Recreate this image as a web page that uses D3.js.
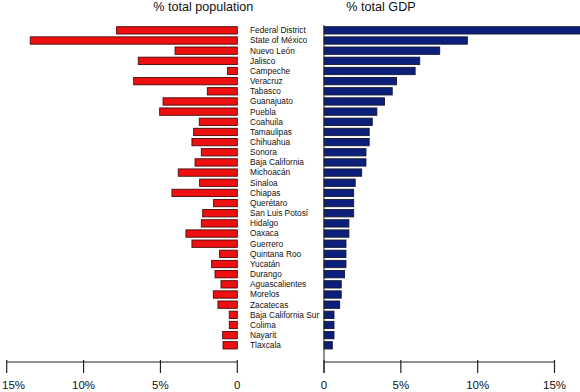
<!DOCTYPE html>
<html>
<head>
<meta charset="utf-8">
<script src="https://cdn.jsdelivr.net/npm/d3@7"></script>
<style>
  body { margin: 0; background: #fff; }
  svg { display: block; font-family: "Liberation Sans", Arial, Helvetica, sans-serif; }
</style>
</head>
<body>
<div id="chart"></div>
<script>
"use strict";

// states, sorted by share of GDP
var states = ["Federal District", "State of México", "Nuevo León", "Jalisco", "Campeche",
  "Veracruz", "Tabasco", "Guanajuato", "Puebla", "Coahuila", "Tamaulipas", "Chihuahua",
  "Sonora", "Baja California", "Michoacán", "Sinaloa", "Chiapas", "Querétaro",
  "San Luis Potosí", "Hidalgo", "Oaxaca", "Guerrero", "Quintana Roo", "Yucatán",
  "Durango", "Aguascalientes", "Morelos", "Zacatecas", "Baja California Sur",
  "Colima", "Nayarit", "Tlaxcala"];

// % of total population
var population = [7.85, 13.47, 4.05, 6.44, 0.63, 6.74, 1.95, 4.83, 5.05, 2.47, 2.84, 2.95,
  2.34, 2.75, 3.84, 2.45, 4.25, 1.54, 2.25, 2.34, 3.34, 2.95, 1.15, 1.67,
  1.45, 1.06, 1.56, 1.26, 0.52, 0.52, 0.95, 0.93];

// % of total GDP
var gdp = [16.8, 9.33, 7.53, 6.23, 5.93, 4.72, 4.44, 3.94, 3.44, 3.14, 2.94, 2.94,
  2.73, 2.73, 2.45, 2.03, 1.93, 1.93, 1.93, 1.62, 1.62, 1.43, 1.43, 1.43,
  1.34, 1.12, 1.12, 1.02, 0.65, 0.65, 0.65, 0.54];

var ticks = [0, 5, 10, 15];
var tickLabel = function(d) { return d === 0 ? "0" : d + "%"; };

var width = 580, height = 392;

var svg = d3.select("#chart").append("svg")
  .attr("width", width)
  .attr("height", height);

var y = d3.scaleBand()
  .domain(states)
  .range([23.85, 351.8])
  .padding(0.28);

// left panel: population, growing to the left
var xLeft = d3.scaleLinear().domain([0, 15]).range([237.3, 6.7]);
// right panel: GDP, growing to the right
var xRight = d3.scaleLinear().domain([0, 15]).range([324, 554.5]);

var axisY = 362;

// == population bars ==
svg.append("g").selectAll("rect")
  .data(states)
  .enter().append("rect")
  .attr("x", function(d, i) { return xLeft(population[i]); })
  .attr("y", function(d) { return y(d); })
  .attr("width", function(d, i) { return xLeft(0) - xLeft(population[i]); })
  .attr("height", y.bandwidth())
  .attr("fill", "#ee1010")
  .attr("stroke", "#4a0808")
  .attr("stroke-width", 0.9);

// == GDP bars ==
svg.append("g").selectAll("rect")
  .data(states)
  .enter().append("rect")
  .attr("x", xRight(0))
  .attr("y", function(d) { return y(d); })
  .attr("width", function(d, i) { return xRight(gdp[i]) - xRight(0); })
  .attr("height", y.bandwidth())
  .attr("fill", "#0c1f7a")
  .attr("stroke", "#141830")
  .attr("stroke-width", 0.9);

// zero line of GDP panel
svg.append("line")
  .attr("x1", xRight(0)).attr("x2", xRight(0))
  .attr("y1", 25).attr("y2", axisY + 11)
  .attr("stroke", "#222").attr("stroke-width", 1);

// state names
svg.append("g").selectAll("text")
  .data(states)
  .enter().append("text")
  .attr("x", 250)
  .attr("y", function(d) { return y(d) + y.bandwidth() / 2; })
  .attr("dy", "0.35em")
  .attr("font-size", "8.3px")
  .attr("fill", "#111")
  .text(function(d) { return d; });

// axes
function drawAxis(scale) {
  var g = svg.append("g");
  g.append("line")
    .attr("x1", scale(0)).attr("x2", scale(15))
    .attr("y1", axisY).attr("y2", axisY)
    .attr("stroke", "#222").attr("stroke-width", 1.2);
  g.selectAll("line.tick")
    .data(ticks)
    .enter().append("line")
    .attr("class", "tick")
    .attr("x1", scale).attr("x2", scale)
    .attr("y1", axisY - 2).attr("y2", axisY + 11)
    .attr("stroke", "#222").attr("stroke-width", 1.2);
  g.selectAll("text")
    .data(ticks)
    .enter().append("text")
    .attr("x", function(d) { return Math.max(scale(d), 13.5); }) // keep edge label inside
    .attr("y", 389)
    .attr("text-anchor", "middle")
    .attr("font-size", "11.5px")
    .attr("fill", "#111")
    .text(tickLabel);
}
drawAxis(xLeft);
drawAxis(xRight);

// titles
svg.append("text")
  .attr("x", 203.3).attr("y", 11)
  .attr("text-anchor", "middle")
  .attr("font-size", "12.6px")
  .attr("fill", "#111")
  .text("% total population");

svg.append("text")
  .attr("x", 381).attr("y", 11)
  .attr("text-anchor", "middle")
  .attr("font-size", "12.6px")
  .attr("fill", "#111")
  .text("% total GDP");
</script>
</body>
</html>
